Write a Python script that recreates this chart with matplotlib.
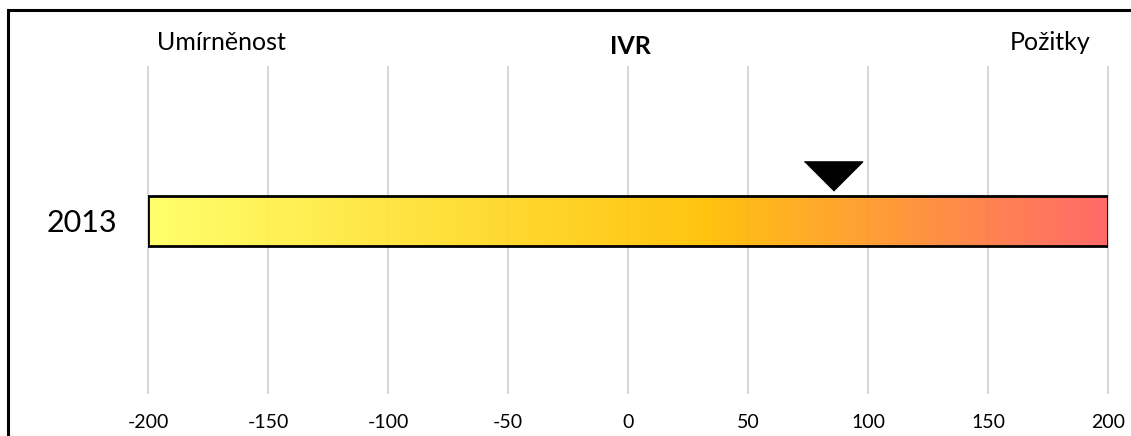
import matplotlib.pyplot as plt
import numpy as np
from matplotlib.colors import LinearSegmentedColormap
from matplotlib.patches import Rectangle

plt.rcParams['font.family'] = ['Lato', 'DejaVu Sans']

# datos
categorias = ['2013']
valores = [85.5]
escala_min, escala_max = -200, 200
ticks_x = [-200, -150, -100, -50, 0, 50, 100, 150, 200]
titulo = 'IVR'
etiqueta_izq = 'Umírněnost'
etiqueta_der = 'Požitky'

W, H = 1131, 436
fig = plt.figure(figsize=(W / 100, H / 100), dpi=100)

# marco de la figura (se sale por la derecha y abajo)
fig.patches.append(Rectangle((8 / W, -0.05), 1.2, (H - 10) / H + 0.05, transform=fig.transFigure,
                             fill=False, edgecolor='black', linewidth=2.2))

ax = fig.add_axes([148 / W, (H - 393) / H, 960 / W, 326 / H])
ax.set_xlim(escala_min, escala_max)
ax.set_ylim(0, 1)

for t in ticks_x:
    ax.axvline(t, color='#d9d9d9', linewidth=1.5, zorder=0, clip_on=False)

# barra con degradado
y_barra = 0.528
alto = 0.153
cmap = LinearSegmentedColormap.from_list('ivr', [(0, '#ffff62'), (0.58, '#ffc000'), (1, '#ff6060')])
grad = np.linspace(0, 1, 400).reshape(1, -1)
ax.imshow(grad, cmap=cmap, aspect='auto', alpha=0.94, zorder=2,
          extent=[escala_min, escala_max, y_barra - alto / 2, y_barra + alto / 2])
ax.add_patch(Rectangle((escala_min, y_barra - alto / 2), escala_max - escala_min, alto,
                       fill=False, edgecolor='black', linewidth=2, zorder=3))

# marcador
tri = [(-2, 1), (2, 1), (0, -1)]
ax.plot(valores, [0.667], marker=tri, markersize=42, color='black', linestyle='none', zorder=4, clip_on=False)

ax.set_yticks([y_barra])
ax.set_yticklabels(categorias, fontsize=22)
ax.set_xticks(ticks_x)
ax.set_xticklabels([str(t) for t in ticks_x], fontsize=14)
ax.tick_params(axis='both', length=0)
ax.tick_params(axis='x', pad=15)
ax.tick_params(axis='y', pad=22)
for s in ax.spines.values():
    s.set_visible(False)

fig.text(630 / W, 1 - 46 / H, titulo, fontsize=18, fontweight='bold', ha='center', va='center')
fig.text(221 / W, 1 - 43 / H, etiqueta_izq, fontsize=18, ha='center', va='center')
fig.text(1050 / W, 1 - 43 / H, etiqueta_der, fontsize=18, ha='center', va='center')

fig.savefig('out.png', dpi=100)
